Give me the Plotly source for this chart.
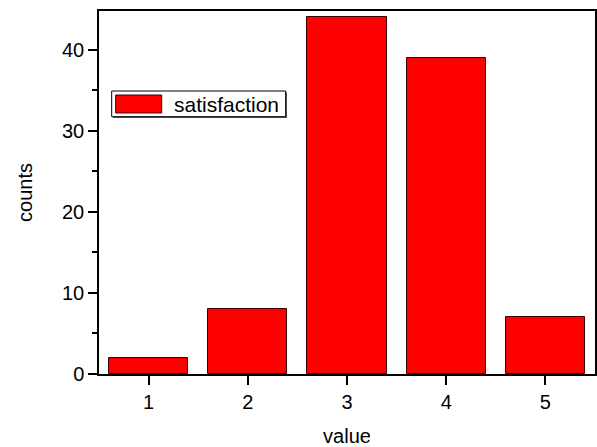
import plotly.graph_objects as go

# Histogram of satisfaction ratings
values = [1, 2, 3, 4, 5]
counts = [2, 8, 44, 39, 7]
series_name = "satisfaction"
y_ticks = [0, 10, 20, 30, 40]

W, H = 597, 447
L, R, T, B = 99, 2, 11, 73
PW, PH = W - L - R, H - T - B


def px_x(p):
    return (p - L) / PW


def px_y(p):
    return (H - B - p) / PH


fig = go.Figure()
fig.add_trace(go.Bar(
    x=values, y=counts, width=0.8, name=series_name,
    marker=dict(color="#ff0000", line=dict(color="#3a0000", width=1)),
    showlegend=False,
))

axis_font = dict(family="Liberation Sans, Arial, sans-serif", size=20, color="black")

fig.update_xaxes(
    range=[0.5, 5.5], tickvals=values, ticktext=[str(v) for v in values],
    showline=True, linecolor="black", linewidth=1.5, mirror=True,
    ticks="outside", ticklen=9, tickwidth=1.5, tickcolor="black",
    showgrid=False, zeroline=False, tickfont=axis_font,
    title=dict(text="value", font=axis_font, standoff=21),
)
fig.update_yaxes(
    range=[0, 44.8], tickvals=y_ticks,
    showline=True, linecolor="black", linewidth=1.5, mirror=True,
    ticks="outside", ticklen=9, tickwidth=1.5, tickcolor="black",
    minor=dict(tickvals=[5, 15, 25, 35], ticks="outside", ticklen=5,
               tickwidth=1.5, tickcolor="black", showgrid=False),
    showgrid=False, zeroline=False, tickfont=axis_font,
    title=dict(text="counts", font=axis_font, standoff=24),
)

# Legend box with a drop shadow, a wide swatch and the series label
shapes = [
    dict(type="rect", xref="paper", yref="paper",
         x0=px_x(113), x1=px_x(287), y0=px_y(118), y1=px_y(92.5),
         fillcolor="#555555", line=dict(width=0), layer="above"),
    dict(type="rect", xref="paper", yref="paper",
         x0=px_x(111.7), x1=px_x(285.7), y0=px_y(116.7), y1=px_y(91),
         fillcolor="white", line=dict(color="black", width=1), layer="above"),
    dict(type="rect", xref="paper", yref="paper",
         x0=px_x(115.7), x1=px_x(161.7), y0=px_y(113), y1=px_y(95),
         fillcolor="#ff0000", line=dict(color="#3a0000", width=1), layer="above"),
]
annotations = [
    dict(xref="paper", yref="paper", x=px_x(172), y=px_y(104),
         xanchor="left", yanchor="middle", showarrow=False,
         text=series_name, font=dict(axis_font, size=21)),
]

fig.update_layout(
    width=W, height=H,
    margin=dict(l=L, r=R, t=T, b=B, autoexpand=False),
    paper_bgcolor="white", plot_bgcolor="white",
    bargap=0, showlegend=False,
    shapes=shapes, annotations=annotations,
)

fig.write_html("out.html")
